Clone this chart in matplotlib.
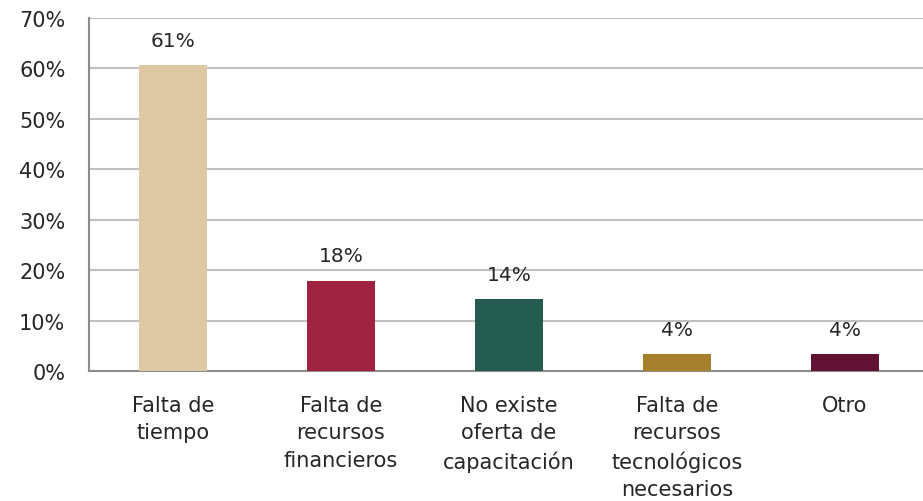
import matplotlib
matplotlib.use("Agg")
import matplotlib.pyplot as plt
from matplotlib.ticker import PercentFormatter

categories = ["Falta de\ntiempo", "Falta de\nrecursos\nfinancieros",
              "No existe\noferta de\ncapacitación",
              "Falta de\nrecursos\ntecnológicos\nnecesarios", "Otro"]
values = [60.7, 17.9, 14.3, 3.4, 3.4]
value_labels = ["61%", "18%", "14%", "4%", "4%"]
colors = ["#DDC9A3", "#9F2241", "#235B4E", "#A57F2C", "#611232"]

plt.rcParams['font.family'] = ['DejaVu Sans']
text_color = "#262626"

fig = plt.figure(figsize=(9.23, 5.02), dpi=100)
ax = fig.add_axes([89 / 923, 1 - 372 / 502, 840 / 923, 353 / 502])

x = range(len(categories))
bars = ax.bar(x, values, width=0.405, color=colors, zorder=3)

for b, lab in zip(bars, value_labels):
    ax.annotate(lab, (b.get_x() + b.get_width() / 2, b.get_height()),
                xytext=(0, 11), textcoords="offset points",
                ha="center", va="bottom", fontsize=14.5, color=text_color)

ax.set_xlim(-0.5, 4.5)
ax.set_ylim(0, 70)
ax.set_yticks(range(0, 71, 10))
ax.yaxis.set_major_formatter(PercentFormatter(decimals=0))
ax.set_xticks(list(x))
ax.set_xticklabels(categories, fontsize=15, color=text_color, linespacing=1.47)
ax.tick_params(axis="y", length=0, pad=17, labelsize=15, labelcolor=text_color)
ax.tick_params(axis="x", length=0, pad=17)

ax.grid(axis="y", color="#c0c0c0", linewidth=1.5, zorder=0)
for side in ["top", "right"]:
    ax.spines[side].set_visible(False)
for side in ["left", "bottom"]:
    ax.spines[side].set_color("#8c8c8c")
    ax.spines[side].set_linewidth(1.5)
ax.set_facecolor("none")

fig.savefig("out.png", dpi=100, facecolor="white")
plt.close(fig)
